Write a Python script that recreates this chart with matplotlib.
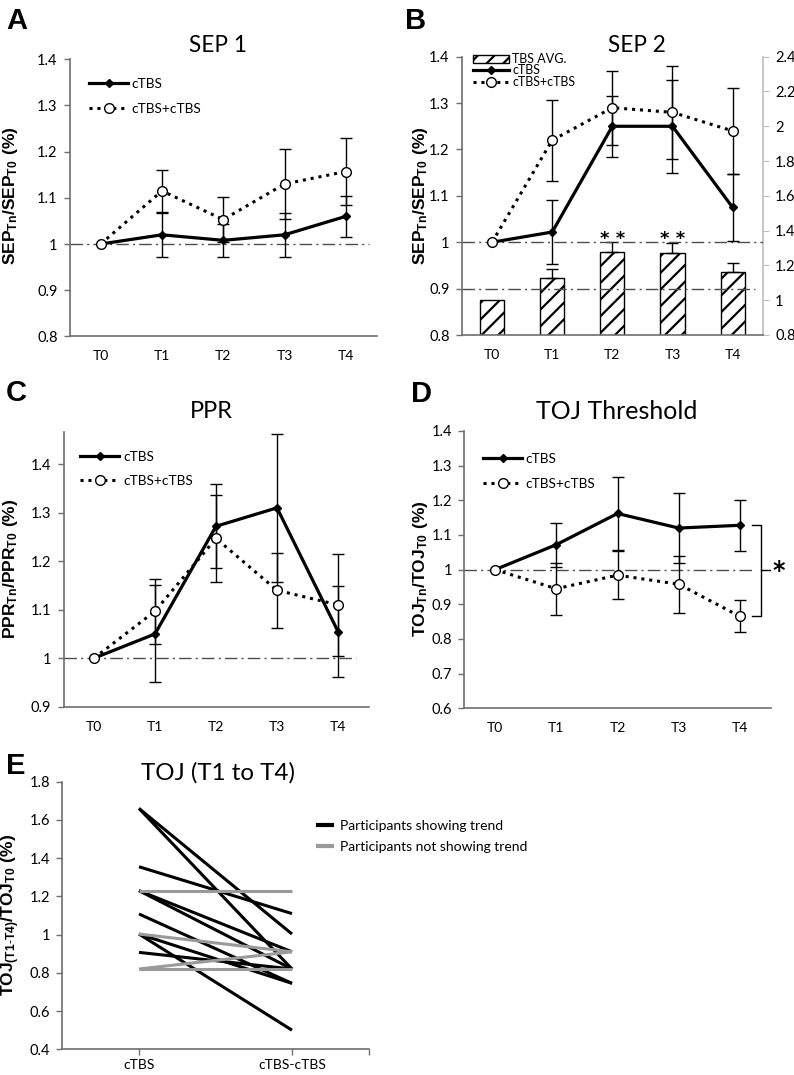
import numpy as np
import matplotlib
matplotlib.use('Agg')
import matplotlib.pyplot as plt
from matplotlib.lines import Line2D
from matplotlib.patches import Patch

plt.rcParams['font.family'] = ['Lato', 'DejaVu Sans']
plt.rcParams['mathtext.fontset'] = 'custom'
plt.rcParams['mathtext.rm'] = 'Liberation Sans'
plt.rcParams['mathtext.bf'] = 'Liberation Sans:bold'
plt.rcParams['hatch.linewidth'] = 1.6

times = ['T0', 'T1', 'T2', 'T3', 'T4']

# A - SEP 1
sep1_ctbs = [1.0, 1.02, 1.008, 1.02, 1.06]
sep1_ctbs_err = [0, 0.047, 0.035, 0.047, 0.045]
sep1_double = [1.0, 1.115, 1.053, 1.13, 1.157]
sep1_double_err = [0, 0.045, 0.048, 0.075, 0.072]

# B - SEP 2 (lines on left axis, bars on right axis)
sep2_ctbs = [1.0, 1.022, 1.25, 1.25, 1.075]
sep2_ctbs_err = [0, 0.068, 0.066, 0.1, 0.072]
sep2_double = [1.0, 1.22, 1.29, 1.28, 1.24]
sep2_double_err = [0, 0.087, 0.08, 0.1, 0.092]
tbs_avg = [1.0, 1.126, 1.276, 1.27, 1.16]
tbs_avg_err = [0, 0.052, 0.056, 0.06, 0.055]

# C - PPR
ppr_ctbs = [1.0, 1.05, 1.272, 1.31, 1.055]
ppr_ctbs_err = [0, 0.1, 0.087, 0.152, 0.093]
ppr_double = [1.0, 1.097, 1.247, 1.14, 1.11]
ppr_double_err = [0, 0.067, 0.09, 0.077, 0.105]

# D - TOJ threshold
toj_ctbs = [1.0, 1.072, 1.162, 1.12, 1.128]
toj_ctbs_err = [0, 0.063, 0.106, 0.1, 0.074]
toj_double = [1.0, 0.945, 0.984, 0.958, 0.865]
toj_double_err = [0, 0.075, 0.07, 0.082, 0.046]

# E - individual participants, cTBS -> cTBS-cTBS
e_conditions = ['cTBS', 'cTBS-cTBS']
trend_single = [1.66, 1.66, 1.355, 1.23, 1.23, 1.108, 1.003, 1.003, 0.907]
trend_double = [1.003, 0.82, 1.11, 0.91, 0.82, 0.745, 0.5, 0.745, 0.82]
notrend_single = [1.23, 1.003, 0.82, 0.82]
notrend_double = [1.23, 0.91, 0.82, 0.91]

W, H = 794, 1075
AXIS_GRAY = '#6e6e6e'
REF_GRAY = '#4d4d4d'
DASHDOT = (0, (9, 3, 1.5, 3))
TICK_FS = 10.5
LEG_FS = 9.8

fig = plt.figure(figsize=(W / 100, H / 100), dpi=100)


def px_axes(l, t, r, b):
    return fig.add_axes([l / W, 1 - b / H, (r - l) / W, (b - t) / H])


def fig_text(x, y, s, **kw):
    fig.text(x / W, 1 - y / H, s, **kw)


def style_axes(ax, yticks, ylim, xlim=(-0.5, 4.5)):
    ax.set_xlim(*xlim)
    ax.set_ylim(*ylim)
    for s in ['top', 'right']:
        ax.spines[s].set_visible(False)
    for s in ['left', 'bottom']:
        ax.spines[s].set_color(AXIS_GRAY)
        ax.spines[s].set_linewidth(1.2)
    ax.set_yticks(yticks)
    ax.set_yticklabels([f'{v:g}' for v in yticks])
    ax.tick_params(axis='y', direction='out', length=4, width=1, color=AXIS_GRAY,
                   pad=5, labelsize=TICK_FS)


def time_axis(ax):
    ax.set_xticks(range(len(times)))
    ax.set_xticklabels(times)
    ax.tick_params(axis='x', length=0, pad=10, labelsize=10)


def plot_pair(ax, single, single_err, double, double_err):
    x = np.arange(len(times))
    ax.errorbar(x[1:], single[1:], yerr=single_err[1:], fmt='none', ecolor='black',
                elinewidth=1, capsize=4, capthick=1, zorder=3)
    ax.errorbar(x[1:], double[1:], yerr=double_err[1:], fmt='none', ecolor='black',
                elinewidth=1, capsize=4, capthick=1, zorder=3)
    ax.plot(x, single, color='black', lw=2.3, marker='D', ms=4.5, zorder=4)
    ax.plot(x, double, color='black', lw=2.2, ls=(0, (1, 1.6)), marker='o', ms=7,
            mfc='white', mec='black', mew=1, zorder=5)


def pair_handles():
    return [Line2D([], [], color='black', lw=2.3, marker='D', ms=4.5),
            Line2D([], [], color='black', lw=2.2, ls=(0, (1, 1.6)), marker='o', ms=7,
                   mfc='white', mec='black', mew=1)]


def place_legend(ax, handles, labels, x, y, spacing, hl=2.9, fs=LEG_FS, hh=0.7):
    ax.legend(handles, labels, loc='upper left', bbox_to_anchor=(x / W, 1 - y / H),
              bbox_transform=fig.transFigure, frameon=False, fontsize=fs,
              handlelength=hl, handleheight=hh, handletextpad=0.25,
              labelspacing=spacing, borderpad=0, borderaxespad=0, numpoints=1)


def panel_letter(x, y, s):
    fig_text(x, y, s, fontsize=21, fontweight='bold', family='Liberation Sans',
             ha='left', va='center')


def ylabel(x, y, s):
    fig_text(x, y, s, fontsize=12.5, rotation=90, ha='center', va='center')


# ---------- A ----------
axA = px_axes(70, 59.3, 376.5, 336.4)
style_axes(axA, [0.8, 0.9, 1.0, 1.1, 1.2, 1.3, 1.4], (0.8, 1.4))
time_axis(axA)
axA.plot([-0.5, 4.37], [1, 1], color=REF_GRAY, lw=1, ls=DASHDOT, zorder=1)
plot_pair(axA, sep1_ctbs, sep1_ctbs_err, sep1_double, sep1_double_err)
place_legend(axA, pair_handles(), ['cTBS', 'cTBS+cTBS'], 89, 78, 0.95)
fig_text(218, 45, 'SEP 1', fontsize=16.3, ha='center', va='center')
panel_letter(6, 21, 'A')
ylabel(11, 196, r'$\mathbf{SEP_{Tn}/SEP_{T0}\ (\%)}$')

# ---------- B ----------
axB = px_axes(462, 56.7, 762.7, 335)
axB2 = axB.twinx()
axB.set_zorder(axB2.get_zorder() + 1)
axB.patch.set_visible(False)
style_axes(axB, [0.8, 0.9, 1.0, 1.1, 1.2, 1.3, 1.4], (0.8, 1.4))
time_axis(axB)
xb = np.arange(len(times))
axB2.bar(xb, tbs_avg, width=0.4, color='white', edgecolor='black', lw=1, hatch='//',
         zorder=2)
axB2.errorbar(xb[1:], tbs_avg[1:], yerr=[np.zeros(4), tbs_avg_err[1:]], fmt='none',
              ecolor='black', elinewidth=1, capsize=4, capthick=1, zorder=3)
axB2.set_ylim(0.8, 2.4)
right_ticks = [0.8, 1.0, 1.2, 1.4, 1.6, 1.8, 2.0, 2.2, 2.4]
axB2.set_yticks(right_ticks)
axB2.set_yticklabels([f'{v:g}' for v in right_ticks])
for s in ['top', 'left', 'bottom']:
    axB2.spines[s].set_visible(False)
axB2.spines['right'].set_color('#bdbdbd')
axB2.spines['right'].set_linewidth(1.2)
axB2.tick_params(axis='y', direction='out', length=4, color='#bdbdbd', pad=5,
                 labelsize=TICK_FS)
axB.plot([-0.5, 4.5], [1, 1], color=REF_GRAY, lw=1, ls=DASHDOT, zorder=1)
axB.plot([-0.5, 4.37], [0.9, 0.9], color=REF_GRAY, lw=1, ls=DASHDOT, zorder=1)
plot_pair(axB, sep2_ctbs, sep2_ctbs_err, sep2_double, sep2_double_err)
for xi in [2, 3]:
    axB.text(xi, 0.987, '* *', fontsize=13, ha='center', va='bottom',
             family='DejaVu Sans', fontweight='bold')
hb = [Patch(facecolor='white', edgecolor='black', hatch='//', lw=1)] + pair_handles()
place_legend(axB, hb, ['TBS AVG.', 'cTBS', 'cTBS+cTBS'], 473, 53, -0.05, fs=9, hh=0.6)
fig_text(637, 46, 'SEP 2', fontsize=16.3, ha='center', va='center')
panel_letter(405, 21, 'B')
ylabel(420, 196, r'$\mathbf{SEP_{Tn}/SEP_{T0}\ (\%)}$')

# ---------- C ----------
axC = px_axes(63.5, 431.7, 368.5, 706.7)
style_axes(axC, [0.9, 1.0, 1.1, 1.2, 1.3, 1.4], (0.9, 1.467))
time_axis(axC)
axC.plot([-0.5, 4.3], [1, 1], color=REF_GRAY, lw=1, ls=DASHDOT, zorder=1)
plot_pair(axC, ppr_ctbs, ppr_ctbs_err, ppr_double, ppr_double_err)
place_legend(axC, pair_handles(), ['cTBS', 'cTBS+cTBS'], 80, 451, 0.9)
fig_text(211, 412, 'PPR', fontsize=17, ha='center', va='center')
panel_letter(6, 393, 'C')
ylabel(11, 569, r'$\mathbf{PPR_{Tn}/PPR_{T0}\ (\%)}$')

# ---------- D ----------
axD = px_axes(464.4, 431, 770.6, 708.3)
style_axes(axD, [0.6, 0.7, 0.8, 0.9, 1.0, 1.1, 1.2, 1.3, 1.4], (0.6, 1.4))
time_axis(axD)
axD.plot([-0.5, 4.25], [1, 1], color=REF_GRAY, lw=1, ls=DASHDOT, zorder=1)
plot_pair(axD, toj_ctbs, toj_ctbs_err, toj_double, toj_double_err)
# significance bracket between the two T4 values
axD.plot([4.19, 4.34, 4.34, 4.19], [toj_ctbs[4], toj_ctbs[4], toj_double[4], toj_double[4]],
         color='black', lw=1, clip_on=False)
axD.plot([4.34, 4.49], [1.0, 1.0], color='black', lw=1, clip_on=False)
axD.text(4.64, 0.995, '*', fontsize=17, ha='center', va='center',
         family='DejaVu Sans', fontweight='bold')
place_legend(axD, pair_handles(), ['cTBS', 'cTBS+cTBS'], 483, 453, 0.95)
fig_text(617, 412, 'TOJ Threshold', fontsize=18, ha='center', va='center')
panel_letter(411, 394, 'D')
ylabel(420, 569, r'$\mathbf{TOJ_{Tn}/TOJ_{T0}\ (\%)}$')

# ---------- E ----------
axE = px_axes(62.5, 781.7, 368.5, 1049.3)
style_axes(axE, [0.4, 0.6, 0.8, 1.0, 1.2, 1.4, 1.6, 1.8], (0.4, 1.8), xlim=(-0.5, 1.5))
axE.set_xticks([0, 1])
axE.set_xticklabels(e_conditions)
axE.set_xticks([1.5], minor=True)
axE.tick_params(axis='x', which='both', direction='out', length=4, width=1,
                color=AXIS_GRAY, pad=3, labelsize=10)
for a, b in zip(trend_single, trend_double):
    axE.plot([0, 1], [a, b], color='black', lw=2.2, solid_capstyle='butt')
for a, b in zip(notrend_single, notrend_double):
    axE.plot([0, 1], [a, b], color='#9a9a9a', lw=2.2, solid_capstyle='butt')
he = [Line2D([], [], color='black', lw=3), Line2D([], [], color='#9a9a9a', lw=3)]
axE.legend(he, ['Participants showing trend', 'Participants not showing trend'],
           loc='upper left', bbox_to_anchor=(318 / W, 1 - 820 / H),
           bbox_transform=fig.transFigure, frameon=False, fontsize=10,
           handlelength=1.0, handletextpad=0.6, labelspacing=0.65,
           borderpad=0, borderaxespad=0)
fig_text(218, 773, 'TOJ (T1 to T4)', fontsize=17.4, ha='center', va='center')
panel_letter(6, 766, 'E')
ylabel(11, 915, r'$\mathbf{TOJ_{(T1\text{-}T4)}/TOJ_{T0}\ (\%)}$')

fig.savefig('out.png', dpi=100)
